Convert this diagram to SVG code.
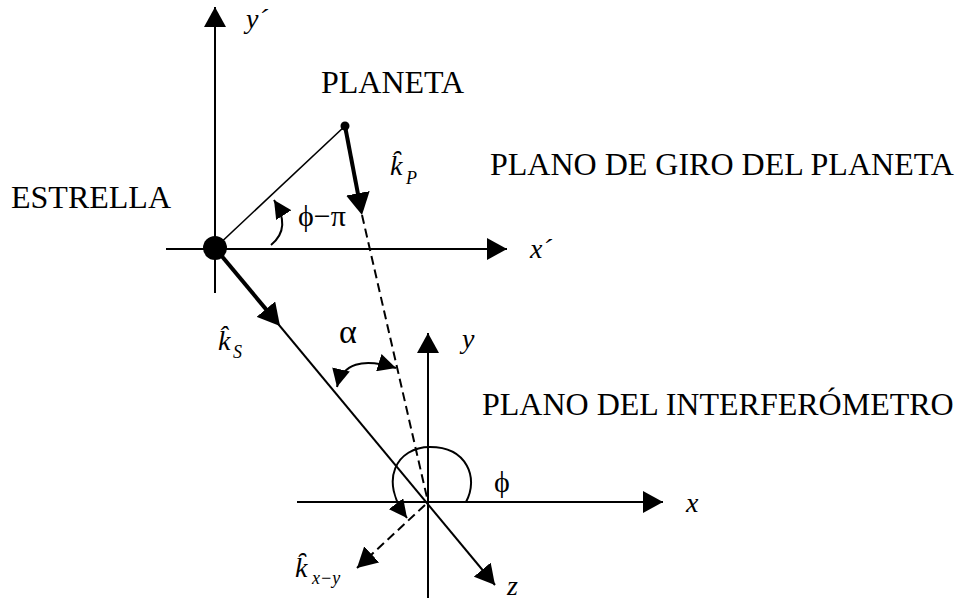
<svg xmlns="http://www.w3.org/2000/svg" width="961" height="600" viewBox="0 0 961 600">
<style>
.ln{stroke:#000;stroke-width:2;fill:none}
.thin{stroke:#000;stroke-width:1.6;fill:none}
.thick{stroke:#000;stroke-width:4;fill:none}
.dash{stroke:#000;stroke-width:2;fill:none;stroke-dasharray:9 5}
.t{font-family:"Liberation Serif","Times New Roman",serif;font-size:32px;fill:#000}
.v{font-family:"Liberation Serif","Times New Roman",serif;font-style:italic;font-size:28px;fill:#000}
.s{font-family:"Liberation Serif","Times New Roman",serif;font-style:italic;font-size:18px;fill:#000}
.g{font-family:"Liberation Serif","DejaVu Serif",serif;font-size:30px;fill:#000}
</style>
<defs>
<marker id="ax" markerUnits="userSpaceOnUse" markerWidth="20" markerHeight="22" viewBox="0 0 20 22" refX="20" refY="11" orient="auto"><path d="M0,0 L20,11 L0,22 z" fill="#000"/></marker>
<marker id="big" markerUnits="userSpaceOnUse" markerWidth="22" markerHeight="24" viewBox="0 0 22 24" refX="14" refY="12" orient="auto"><path d="M0,0 L22,12 L0,24 z" fill="#000"/></marker>
<marker id="sm" markerUnits="userSpaceOnUse" markerWidth="18" markerHeight="18" viewBox="0 0 18 18" refX="18" refY="9" orient="auto-start-reverse"><path d="M0,0 L18,9 L0,18 z" fill="#000"/></marker>
</defs>

<g id="connectors">
  <line class="ln" x1="215" y1="293" x2="215" y2="7" marker-end="url(#ax)"/>
  <line class="ln" x1="166" y1="249" x2="507" y2="249" marker-end="url(#ax)"/>
  <line class="thin" x1="215" y1="248" x2="345" y2="126"/>
  <line class="thick" x1="345" y1="126" x2="360.5" y2="207.1" marker-end="url(#big)"/>
  <line class="ln" x1="215" y1="248" x2="495" y2="585" marker-end="url(#ax)"/>
  <line class="thick" x1="215" y1="248" x2="274.9" y2="319.9" marker-end="url(#big)"/>
  <line class="dash" x1="362" y1="215" x2="428" y2="502"/>
  <line class="ln" x1="428" y1="598" x2="428" y2="333" marker-end="url(#ax)"/>
  <line class="ln" x1="297" y1="502" x2="663" y2="502" marker-end="url(#ax)"/>
  <line class="dash" x1="425" y1="505" x2="357" y2="568" marker-end="url(#ax)"/>
  <path class="ln" d="M466,502 C479,478 467,447 430,447 C397,447 378,480 407,518" marker-end="url(#sm)"/>
  <path class="ln" d="M337,387 Q345,352 396,368" marker-start="url(#sm)" marker-end="url(#sm)"/>
  <path class="ln" d="M271,245 Q292,228 274,200" marker-end="url(#sm)"/>
</g>

<g id="star">
  <circle cx="215" cy="248" r="12" fill="#000"/>
  <text class="t" x="11" y="208">ESTRELLA</text>
</g>

<g id="planet">
  <circle cx="345" cy="126" r="4.5" fill="#000"/>
  <text class="t" x="321" y="93">PLANETA</text>
</g>

<g id="labels">
  <text class="v" x="246" y="28">y´</text>
  <text class="v" x="530" y="258">x´</text>
  <text class="t" x="490" y="175">PLANO DE GIRO DEL PLANETA</text>
  <text class="t" x="482" y="415">PLANO DEL INTERFERÓMETRO</text>
  <text class="v" x="390" y="175">k&#x311;</text>
  <text class="s" x="406" y="184">P</text>
  <text class="v" x="218" y="350">k&#x302;</text>
  <text class="s" x="233" y="358">S</text>
  <text class="g" x="298" y="226">ϕ−π</text>
  <text class="g" x="339" y="343" style="font-size:34px">α</text>
  <text class="g" x="494" y="492">ϕ</text>
  <text class="v" x="462" y="348">y</text>
  <text class="v" x="686" y="512">x</text>
  <text class="v" x="507" y="595">z</text>
  <text class="v" x="295" y="577">k&#x311;</text>
  <text class="s" x="312" y="584">x−y</text>
</g>
</svg>
